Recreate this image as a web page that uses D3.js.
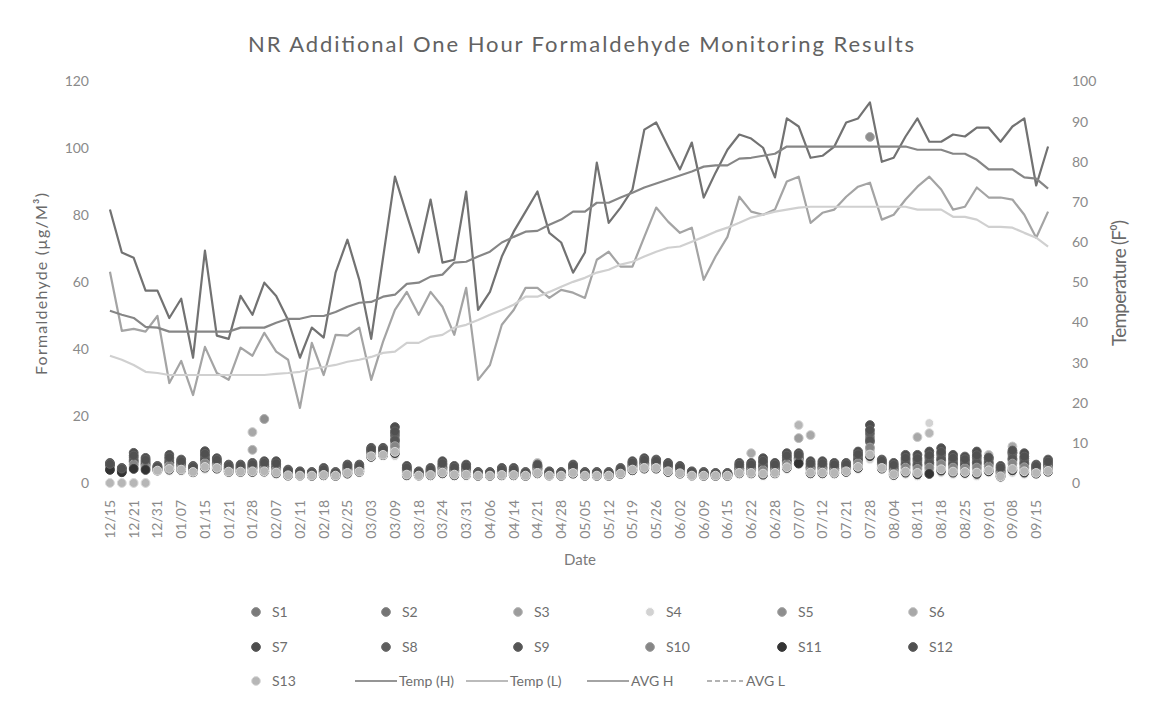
<!DOCTYPE html>
<html>
<head>
<meta charset="utf-8">
<script src="https://cdn.jsdelivr.net/npm/d3@7"></script>
<style>
  body { margin: 0; background: #fff; }
  svg text { font-family: Lato, "Open Sans", sans-serif; }
</style>
</head>
<body>
<script>
// monitoring dates (only every 2nd one is labelled on the axis)
const dates = ["12/15","12/18","12/21","12/28","12/31","01/04","01/07","01/11","01/15","01/18",
  "01/21","01/25","01/28","02/01","02/07","02/09","02/11","02/15","02/18","02/22",
  "02/25","03/01","03/03","03/06","03/09","03/14","03/18","03/21","03/24","03/28",
  "03/31","04/03","04/06","04/10","04/14","04/18","04/21","04/25","04/28","05/02",
  "05/05","05/09","05/12","05/16","05/19","05/23","05/26","05/30","06/02","06/06",
  "06/09","06/13","06/15","06/19","06/22","06/25","06/28","07/03","07/07","07/10",
  "07/12","07/17","07/21","07/25","07/28","08/01","08/04","08/08","08/11","08/15",
  "08/18","08/22","08/25","08/29","09/01","09/05","09/08","09/12","09/15","09/19"];

// temperatures, right axis (F)
const tempH = [68.1,57.4,56.1,47.9,47.9,41.1,45.9,31.2,57.9,36.7, 35.9,46.6,41.9,49.9,46.6,40.6,31.2,38.7,36.2,52.4,
  60.6,50.6,35.9,56.1,76.3,66.8,57.4,70.6,54.9,55.6, 72.6,43.1,47.6,56.4,62.6,67.6,72.6,62.3,59.9,52.4,
  57.4,79.8,64.8,68.6,73.1,88.0,89.8,83.8,78.1,84.8, 71.1,77.3,83.0,86.8,85.8,83.5,76.1,90.8,88.8,81.0,
  81.5,83.8,89.8,90.8,94.8,80.0,81.0,86.3,90.8,85.0, 85.0,86.8,86.3,88.5,88.5,85.0,88.8,90.8,74.1,83.8];
const tempL = [52.6,37.9,38.4,37.7,41.6,24.9,30.4,21.9,33.9,27.4, 25.7,33.7,31.7,37.4,32.7,30.7,18.7,34.9,26.9,36.9,
  36.7,38.7,25.7,35.2,43.1,47.6,41.9,47.6,43.9,36.9, 48.6,25.7,29.4,39.4,43.1,48.6,48.6,46.1,48.1,47.4,
  46.1,55.6,57.6,53.9,53.9,61.3,68.6,65.1,62.3,63.6, 50.6,56.4,61.3,71.3,67.6,66.8,68.1,75.1,76.3,64.8,
  67.3,68.1,71.3,73.8,74.8,65.6,66.8,70.6,73.8,76.3, 73.1,68.1,68.8,73.6,71.1,71.1,70.6,66.8,61.1,67.6];
const avgH = [42.9,41.9,41.1,38.9,38.7,37.7,37.7,37.7,37.7,37.7, 37.7,38.7,38.7,38.7,39.9,40.9,40.9,41.6,41.6,42.6,
  43.9,44.9,45.1,46.4,46.9,49.6,49.9,51.4,51.9,54.9, 55.1,56.4,57.6,59.9,61.3,62.6,62.8,64.3,65.6,67.6,
  67.6,69.8,69.8,71.1,72.3,73.6,74.6,75.6,76.6,77.6, 78.8,79.1,79.1,80.8,81.0,81.5,82.0,83.8,83.8,83.8,
  83.8,83.8,83.8,83.8,83.8,83.8,83.8,83.8,83.0,83.0, 83.0,82.0,82.0,80.5,78.1,78.1,78.1,76.1,75.8,73.3];
const avgL = [31.7,30.7,29.4,27.7,27.4,26.9,26.9,26.9,26.9,26.9, 26.9,26.9,26.9,26.9,27.2,27.4,27.7,28.4,28.9,29.4,
  30.2,30.7,31.4,32.4,32.7,34.9,34.9,36.4,36.9,38.7, 39.4,40.6,41.9,43.1,44.4,46.4,46.4,47.6,48.9,50.1,
  51.1,52.4,53.1,54.4,55.1,56.4,57.6,58.6,58.9,60.1, 61.3,62.6,63.6,64.8,66.1,66.8,67.6,68.1,68.6,68.8,
  68.8,68.8,68.8,68.8,68.8,68.8,68.8,68.8,68.1,68.1, 68.1,66.3,66.3,65.6,63.8,63.8,63.6,62.3,61.1,58.9];

// formaldehyde readings, left axis (ug/M3), one array per sensor
const S1 = [5.2,4.0,7.1,6.1,4.5,6.7,5.8,4.4,7.6,6.2, 4.6,4.6,5.0,5.3,5.1,3.3,3.0,2.8,3.6,2.8,
  4.5,4.6,9.5,9.6,13.7,4.0,3.0,3.6,5.1,4.0, 4.3,2.8,2.8,3.6,3.6,2.8,4.8,3.0,2.8,4.5,
  2.8,2.8,2.8,3.8,5.5,6.2,6.0,5.0,4.2,3.0, 2.8,2.7,2.7,4.8,4.8,5.5,4.8,7.2,7.7,5.1,
  5.1,4.8,5.0,7.5,13.7,6.0,4.6,6.3,6.2,6.8, 7.8,6.3,6.0,6.8,6.5,3.8,8.1,6.7,4.5,5.6];
const S2 = [4.9,3.8,6.4,5.5,4.3,6.0,5.3,4.1,6.8,5.7, 4.3,4.3,4.5,4.8,4.5,3.0,2.8,2.7,3.3,2.7,
  4.0,4.3,9.0,9.3,12.4,3.6,2.8,3.3,4.5,3.6, 3.8,2.7,2.7,3.3,3.3,2.7,4.3,2.8,2.7,4.0,
  2.7,2.7,2.7,3.5,5.0,5.7,5.5,4.5,3.8,2.8, 2.7,2.5,2.5,4.3,4.3,4.7,4.3,6.5,7.2,4.5,
  4.5,4.3,4.5,6.7,12.2,5.5,4.0,5.5,5.2,5.7, 6.7,5.5,5.2,5.7,5.7,3.3,7.0,5.7,4.0,5.0];
const S3 = [4.2,3.3,4.8,4.3,3.8,4.5,4.2,3.4,5.1,4.7, 3.5,3.5,9.9,3.7,3.3,2.4,2.3,2.3,2.5,2.3,
  3.1,3.5,8.1,8.5,9.7,2.6,2.3,2.5,3.3,2.6, 2.7,2.3,2.3,2.5,2.5,2.3,3.2,2.3,2.3,3.1,
  2.3,2.3,2.3,2.9,4.1,4.7,4.6,3.6,3.0,2.3, 2.3,2.2,2.2,3.2,3.2,3.1,3.2,5.0,13.4,3.3,
  3.3,3.2,3.6,5.1,9.1,4.6,2.8,3.7,3.3,3.5, 4.5,3.7,3.6,3.5,4.1,2.2,4.6,3.8,3.1,3.8];
const S4 = [0,0,0,0,3.5,3.5,3.5,3.0,4.0,4.0, 3.0,3.0,3.0,3.0,2.5,2.0,2.0,2.0,2.0,2.0,
  2.5,3.0,7.5,8.0,8.0,2.0,2.0,2.0,2.5,2.0, 2.0,2.0,2.0,2.0,2.0,2.0,2.5,2.0,2.0,2.5,
  2.0,2.0,2.0,2.5,3.5,4.0,4.0,3.0,2.5,2.0, 2.0,2.0,2.0,2.5,2.5,2.0,2.5,4.0,5.5,2.5,
  2.5,2.5,3.0,4.0,7.0,4.0,2.0,2.5,2.0,17.9, 3.0,2.5,2.5,2.0,3.0,1.5,3.0,2.5,2.5,3.0];
const S5 = [4.7,3.7,6.1,5.3,4.2,5.7,5.1,3.9,6.5,5.5, 4.1,4.1,4.4,19.1,4.3,2.9,2.7,2.6,3.1,2.6,
  3.9,4.1,8.9,9.1,11.9,3.4,2.7,3.1,4.3,3.4, 3.6,2.6,2.6,3.1,3.1,2.6,4.1,2.7,2.6,3.9,
  2.6,2.6,2.6,3.4,4.9,5.5,5.4,4.4,3.7,2.7, 2.6,2.5,2.5,4.1,4.1,4.4,4.1,6.2,7.0,4.3,
  4.3,4.1,4.4,6.4,103.3,5.4,3.8,5.2,4.9,5.3, 6.3,5.2,4.9,5.3,5.5,3.1,6.6,5.5,3.9,4.8];
const S6 = [4.4,3.5,5.3,4.7,4.0,5.0,4.6,3.6,5.7,5.0, 3.8,3.8,15.2,4.1,3.7,2.6,2.5,2.4,2.8,2.4,
  3.4,3.8,8.4,8.8,10.6,2.9,2.5,2.8,3.7,2.9, 3.1,2.4,2.4,2.8,2.8,2.4,6.0,2.5,2.4,3.4,
  2.4,2.4,2.4,3.1,4.4,5.0,5.0,3.9,3.3,2.5, 2.4,2.3,2.3,3.6,8.9,3.6,3.6,5.5,6.5,14.3,
  3.7,3.6,3.9,5.6,10.0,4.9,3.2,4.3,13.7,4.2, 5.2,4.3,4.1,4.2,8.4,2.6,10.9,4.4,3.4,4.2];
const S7 = [6.0,4.5,9.0,7.5,5.1,8.4,7.0,5.1,9.5,7.4, 5.5,5.5,6.0,6.5,6.5,4.0,3.5,3.3,4.5,3.3,
  5.5,5.5,10.5,10.5,16.7,5.1,3.5,4.5,6.5,5.1, 5.5,3.3,3.3,4.5,4.5,3.3,5.0,3.5,3.3,5.5,
  3.3,3.3,3.3,4.5,6.5,7.4,7.0,6.0,5.1,3.5, 3.3,3.0,3.0,6.0,6.0,7.4,6.0,8.9,8.9,6.5,
  6.5,6.0,6.0,9.4,17.3,7.0,6.0,8.4,8.4,9.4, 10.4,8.4,7.9,9.4,7.5,5.1,9.0,8.9,5.5,7.0];
const S8 = [5.4,4.1,7.7,6.5,4.7,7.2,6.1,4.6,8.1,6.6, 4.9,4.9,5.3,5.6,5.5,3.5,3.1,3.0,3.9,3.0,
  4.8,4.9,9.8,9.9,14.5,4.3,3.1,3.9,5.5,4.3, 4.6,3.0,3.0,3.9,3.9,3.0,5.1,3.1,3.0,4.8,
  3.0,3.0,3.0,4.0,5.8,6.6,6.3,5.3,4.5,3.1, 3.0,2.8,2.8,5.1,5.1,6.1,5.1,7.7,8.1,5.5,
  5.5,5.1,5.3,8.1,14.8,6.3,5.0,6.9,6.8,7.6, 8.6,6.9,6.6,7.6,7.1,4.2,9.0,7.3,4.8,6.0];
const S9 = [5.0,3.8,6.6,5.7,4.4,6.2,5.4,4.2,7.0,5.9, 4.4,4.4,4.7,4.9,4.7,3.1,2.8,2.7,3.4,2.7,
  4.2,4.4,9.2,9.4,12.8,3.7,2.8,3.4,4.7,3.7, 3.9,2.7,2.7,3.4,3.4,2.7,4.4,2.8,2.7,4.2,
  2.7,2.7,2.7,3.6,5.2,5.9,5.7,4.7,3.9,2.8, 2.7,2.6,2.6,4.4,4.4,5.0,4.4,6.7,7.4,4.7,
  4.7,4.4,4.7,7.0,12.7,5.7,4.2,5.7,5.5,6.1, 7.1,5.7,5.5,6.1,6.0,3.5,7.3,6.0,4.2,5.2];
const S10 = [4.5,3.5,5.6,4.9,4.1,5.2,4.7,3.7,5.9,5.2, 3.9,3.9,4.1,4.2,3.9,2.7,2.5,2.5,2.9,2.5,
  3.6,3.9,8.6,8.9,11.0,3.1,2.5,2.9,3.9,3.1, 3.2,2.5,2.5,2.9,2.9,2.5,3.7,2.5,2.5,3.6,
  2.5,2.5,2.5,3.2,4.6,5.2,5.1,4.1,3.4,2.5, 2.5,2.4,2.4,3.7,3.7,3.9,3.7,5.7,6.7,3.9,
  3.9,3.7,4.1,5.9,10.6,5.1,3.4,4.6,4.2,4.6, 5.6,4.6,4.4,4.6,4.9,2.8,5.8,4.7,3.5,4.4];
const S11 = [3.9,3.2,4.2,3.9,3.7,4.0,3.9,3.2,4.6,4.3, 3.3,3.3,3.3,3.4,2.9,2.2,2.2,2.1,2.3,2.1,
  2.8,3.3,7.8,8.3,8.9,2.3,2.2,2.3,2.9,2.3, 2.4,2.1,2.1,2.3,2.3,2.1,2.9,2.2,2.1,2.8,
  2.1,2.1,2.1,2.7,3.8,4.3,4.3,3.3,2.8,2.2, 2.1,2.1,2.1,2.9,2.9,2.5,2.9,4.5,5.8,2.9,
  2.9,2.9,3.3,4.5,8.0,4.3,2.4,3.1,2.6,2.7, 3.7,3.1,3.0,2.7,3.5,1.9,3.8,3.1,2.8,3.4];
const S12 = [5.7,4.3,8.2,6.9,4.9,7.7,6.5,4.8,8.7,6.9, 5.1,5.1,5.6,6.0,5.9,3.7,3.3,3.1,4.1,3.1,
  5.1,5.1,10.1,10.1,15.4,4.6,3.3,4.1,5.9,4.6, 5.0,3.1,3.1,4.1,4.1,3.1,5.5,3.3,3.1,5.1,
  3.1,3.1,3.1,4.2,6.1,6.9,6.6,5.6,4.7,3.3, 3.1,2.9,2.9,5.5,5.5,6.6,5.5,8.2,8.4,5.9,
  5.9,5.5,5.6,8.6,15.8,6.6,5.4,7.5,7.4,8.3, 9.3,7.5,7.1,8.3,7.6,4.6,9.7,7.9,5.1,6.4];
const S13 = [0,0,0,0,3.7,4.2,4.0,3.3,4.8,4.5, 3.4,3.4,3.5,3.5,3.1,2.3,2.2,2.2,2.4,2.2,
  3.0,3.4,8.0,8.4,9.3,2.5,2.2,2.4,3.1,2.5, 2.5,2.2,2.2,2.4,2.4,2.2,3.0,2.2,2.2,3.0,
  2.2,2.2,2.2,2.8,4.0,4.5,4.5,3.5,2.9,2.2, 2.2,2.2,2.2,3.0,3.0,2.8,3.0,4.7,17.3,3.1,
  3.1,3.0,3.5,4.8,8.5,4.5,2.6,3.4,3.0,14.9, 4.1,3.4,3.3,3.1,3.8,2.0,4.2,3.5,3.0,3.6];

const sensorNames = ["S1","S2","S3","S4","S5","S6","S7","S8","S9","S10","S11","S12","S13"];
const sensorValues = [S1,S2,S3,S4,S5,S6,S7,S8,S9,S10,S11,S12,S13];
const sensorColors = ["#7a7a7a","#747474","#9c9c9c","#d2d2d2","#8e8e8e","#a8a8a8","#4d4d4d",
  "#5e5e5e","#555555","#868686","#333333","#505050","#b6b6b6"];

const lineNames = ["Temp (H)","Temp (L)","AVG H","AVG L"];
const lineValues = [tempH, tempL, avgH, avgL];
const lineColors = ["#727272","#a4a4a4","#868686","#d0d0d0"];

const width = 1154, height = 702;
const svg = d3.select("body").append("svg")
    .attr("width", width)
    .attr("height", height);

svg.append("rect").attr("width", width).attr("height", height).attr("fill", "#fff");

const x = d3.scaleBand().domain(dates).range([104, 1054]);
const yL = d3.scaleLinear().domain([0, 120]).range([483, 81]);
const yR = d3.scaleLinear().domain([0, 100]).range([483, 81.5]);
const cx = d => x(d) + x.bandwidth() / 2;

// title
svg.append("text")
    .attr("x", 581).attr("y", 52)
    .attr("text-anchor", "middle")
    .attr("font-size", 22)
    .attr("fill", "#626262")
    .attr("textLength", 666)
    .attr("lengthAdjust", "spacing")
    .text("NR Additional One Hour Formaldehyde Monitoring Results");

// left axis
const axL = svg.append("g")
    .attr("transform", "translate(104,0)")
    .call(d3.axisLeft(yL).tickValues(d3.range(0, 121, 20)).tickSize(0).tickPadding(15));
axL.select(".domain").remove();
axL.selectAll("text").attr("font-size", 14).attr("fill", "#8a8a8a");

// right axis
const axR = svg.append("g")
    .attr("transform", "translate(1054,0)")
    .call(d3.axisRight(yR).tickValues(d3.range(0, 101, 10)).tickSize(0).tickPadding(18));
axR.select(".domain").remove();
axR.selectAll("text").attr("font-size", 14).attr("fill", "#8a8a8a");

// x axis, every second date
const axX = svg.append("g")
    .attr("transform", "translate(0,492)")
    .call(d3.axisBottom(x).tickValues(dates.filter((d, i) => i % 2 === 0)).tickSize(0).tickPadding(0));
axX.select(".domain").remove();
axX.selectAll("text")
    .attr("font-size", 14)
    .attr("fill", "#8a8a8a")
    .attr("text-anchor", "end")
    .attr("transform", "rotate(-90)")
    .attr("x", -8)
    .attr("y", 0)
    .attr("dy", "0.35em");

// axis titles
svg.append("text")
    .attr("transform", "translate(47,284) rotate(-90)")
    .attr("text-anchor", "middle")
    .attr("font-size", 16)
    .attr("fill", "#6a6a6a")
    .attr("textLength", 182)
    .attr("lengthAdjust", "spacing")
    .text("Formaldehyde (µg/M³)");

svg.append("text")
    .attr("transform", "translate(1126,283) rotate(-90)")
    .attr("text-anchor", "middle")
    .attr("font-size", 19)
    .attr("fill", "#6a6a6a")
    .attr("textLength", 126)
    .attr("lengthAdjust", "spacing")
    .text("Temperature (F⁰)");

svg.append("text")
    .attr("x", 580).attr("y", 565)
    .attr("text-anchor", "middle")
    .attr("font-size", 15)
    .attr("fill", "#7a7a7a")
    .text("Date");

// sensor dots
sensorNames.forEach((name, k) => {
    svg.append("g").selectAll("circle")
        .data(dates.map((d, i) => ({d: d, v: sensorValues[k][i]})).filter(p => p.v != null))
        .join("circle")
        .attr("cx", p => cx(p.d))
        .attr("cy", p => yL(p.v))
        .attr("r", 4.4)
        .attr("fill", sensorColors[k])
        .attr("stroke", d3.color(sensorColors[k]).brighter(0.5))
        .attr("stroke-width", 1);
});

// temperature lines
const line = d3.line().x((v, i) => cx(dates[i])).y(v => yR(v));
lineNames.forEach((name, k) => {
    svg.append("path")
        .datum(lineValues[k])
        .attr("d", line)
        .attr("fill", "none")
        .attr("stroke", lineColors[k])
        .attr("stroke-width", 2.2)
        .attr("stroke-linejoin", "round");
});

// legend
const leg = svg.append("g").attr("font-size", 14).attr("fill", "#6e6e6e");
const legCols = [256, 386, 518, 650, 782, 913];
const legRows = [612, 647, 681];
sensorNames.forEach((name, k) => {
    const lx = legCols[k % 6], ly = legRows[Math.floor(k / 6)];
    leg.append("circle").attr("cx", lx).attr("cy", ly).attr("r", 4.4)
        .attr("fill", sensorColors[k])
        .attr("stroke", d3.color(sensorColors[k]).brighter(0.5));
    leg.append("text").attr("x", lx + 16).attr("y", ly).attr("dy", "0.35em").text(name);
});
const lineLegX = [355, 466, 587, 707];
lineNames.forEach((name, k) => {
    const lx = lineLegX[k], ly = legRows[2];
    leg.append("line")
        .attr("x1", lx).attr("x2", lx + (k === 3 ? 36 : 42))
        .attr("y1", ly).attr("y2", ly)
        .attr("stroke", k === 3 ? "#9a9a9a" : lineColors[k])
        .attr("stroke-width", 1.5)
        .attr("stroke-dasharray", k === 3 ? "5,3" : null);
    leg.append("text").attr("x", lx + (k === 3 ? 39 : 44)).attr("y", ly).attr("dy", "0.35em").text(name);
});
</script>
</body>
</html>
